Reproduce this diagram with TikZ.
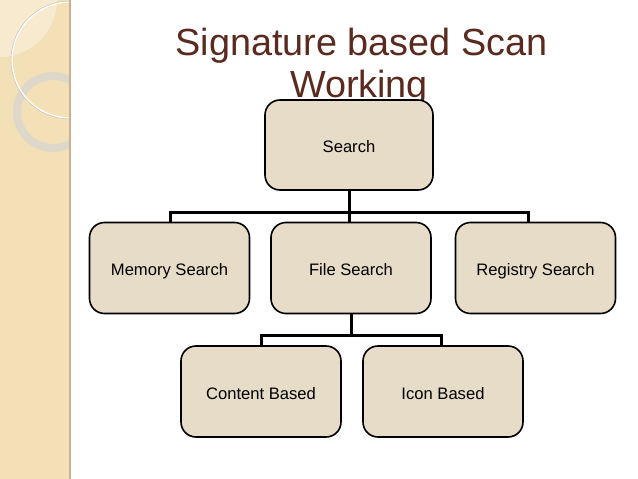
\documentclass[tikz,border=0pt]{standalone}
\usepackage{fontspec}
\setmainfont{Liberation Sans}
\definecolor{panel}{HTML}{F3E0B6}
\definecolor{paneledge}{HTML}{C8B48C}
\definecolor{boxfill}{HTML}{E6DCC7}
\definecolor{titlecol}{HTML}{5B2A1F}
\definecolor{ringcol}{HTML}{DCD8CE}
\begin{document}
\begin{tikzpicture}[x=1pt,y=-1pt,
  box/.style={draw=black,line width=1.6pt,fill=boxfill,rounded corners=15pt,
    minimum width=160pt,minimum height=91pt,inner sep=0pt,
    text height=15pt,text depth=0pt,
    font=\fontsize{16.6}{19}\selectfont},
  conn/.style={line width=3pt,draw=black},
  titletext/.style={text=titlecol,font=\fontsize{37.8}{42}\selectfont,inner sep=0pt,anchor=base}]
\useasboundingbox (0,0) rectangle (638,479);
\fill[white] (0,0) rectangle (638,479);
% left panel
\fill[panel] (0,0) rectangle (70,479);
\begin{scope}
  \clip (0,0) rectangle (70,479);
  \fill[white,opacity=0.35] (0,0) circle (57);
  \draw[ringcol,line width=8pt,opacity=0.9] (53,112) circle (36);
  \draw[white,line width=1.3pt] (70,60) circle (58);
  \draw[gray!50,line width=0.4pt] (70,60) circle (59);
\end{scope}
\draw[paneledge,line width=1.5pt] (70,0) -- (70,479);
% title
\node[titletext] (t1) at (361.5,55) {Signature based Scan};
\node[titletext] (t2) at (359,97) {Working};
% boxes
\node[box,minimum width=168pt,minimum height=90pt] (search) at (349,145) {Search};
\node[box] (mem) at (169.5,268) {Memory Search};
\node[box] (file) at (351,268) {File Search};
\node[box] (reg) at (535.5,268) {Registry Search};
\node[box] (content) at (261,391.5) {Content Based};
\node[box] (icon) at (443,391.5) {Icon Based};
% connectors
\coordinate (j1) at ([yshift=-22pt]search.south);
\coordinate (j2) at ([yshift=-21pt]file.south);
\draw[conn] (search.south) -- (j1);
\draw[conn] (j1) -| ([xshift=0.5pt]mem.north);
\draw[conn] (j1) -| ([xshift=-7pt]reg.north);
\draw[conn] (j1) -- (j1 |- file.north);
\draw[conn] (file.south) -- (j2);
\draw[conn] (j2) -| (content.north);
\draw[conn] (j2) -| ([xshift=-2pt]icon.north);
\end{tikzpicture}
\end{document}
